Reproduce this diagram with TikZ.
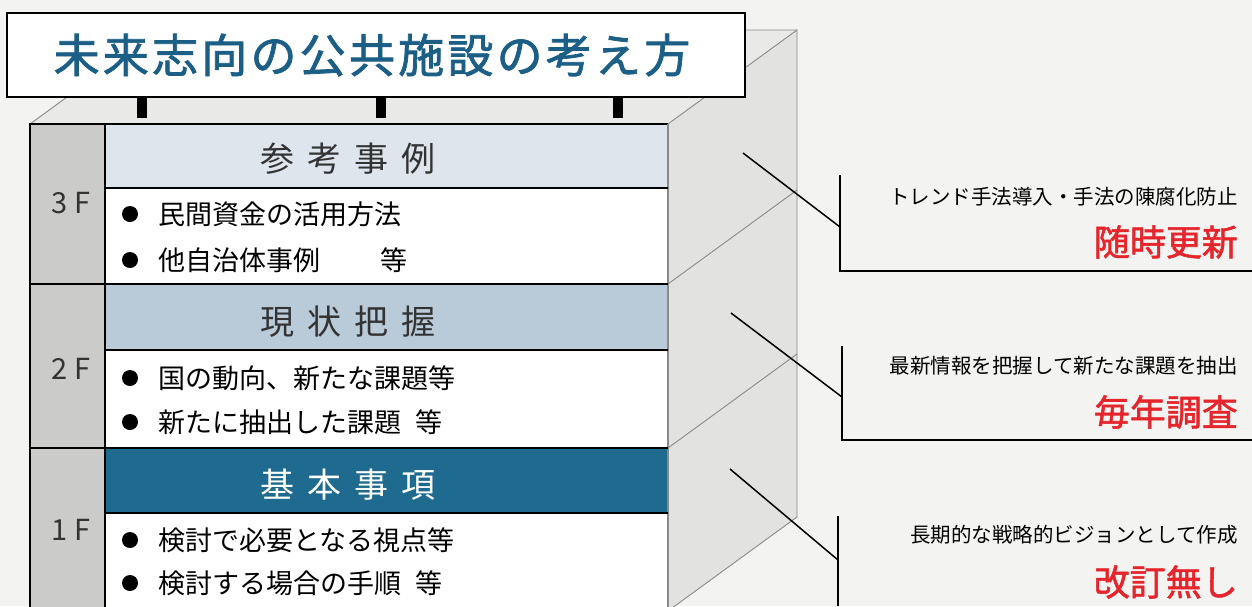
\documentclass[tikz,border=0pt]{standalone}
\usepackage{fontspec}
\setmainfont{Noto Sans CJK JP}
\newfontfamily\titlefont{Noto Sans CJK JP}[LetterSpace=7,FakeBold=1.6]
\newfontfamily\headfont{Noto Sans CJK JP}[LetterSpace=38]
\newfontfamily\redfont{Noto Sans CJK JP}[FakeBold=1.5]
\definecolor{bgc}{HTML}{F3F3F1}
\definecolor{topc}{HTML}{E9E9E8}
\definecolor{sidec}{HTML}{E2E2E1}
\definecolor{sidel}{HTML}{8A8A8A}
\definecolor{colc}{HTML}{CBCBCA}
\definecolor{hthree}{HTML}{DFE5EC}
\definecolor{htwo}{HTML}{B9CAD9}
\definecolor{hone}{HTML}{1F6B8F}
\definecolor{titlec}{HTML}{1C5F86}
\definecolor{redc}{HTML}{E5242B}
\definecolor{txtc}{HTML}{333333}
\begin{document}
\begin{tikzpicture}[x=1pt,y=-1pt,
  frame/.style={draw=black,line width=1.6pt},
  thinside/.style={draw=sidel,line width=0.9pt},
  leader/.style={draw=black,line width=1.5pt},
  floorlbl/.style={font=\fontsize{29}{32}\selectfont,text=txtc},
  headlbl/.style={font=\headfont\fontsize{34}{38}\selectfont,text=txtc},
  item/.style={anchor=west,font=\fontsize{27}{30}\selectfont,text=black,inner sep=0pt},
  bullet/.style={circle,fill=black,minimum size=16pt,inner sep=0pt},
  note/.style={anchor=east,font=\fontsize{20.5}{24}\selectfont,text=black,inner sep=0pt},
  big/.style={anchor=east,font=\redfont\fontsize{36}{40}\selectfont,text=redc,inner sep=0pt},
  post/.style={fill=black}]
\fill[bgc] (0,0) rectangle (1252,606);
\useasboundingbox (0,0) rectangle (1252,606);
% top face
\fill[topc] (30,124) -- (159,30) -- (797,30) -- (668,124) -- cycle;
\draw[thinside] (30,124) -- (159,30) -- (797,30);
% side face
\fill[sidec] (668,124) -- (797,30) -- (797,517) -- (668,611) -- cycle;
\draw[thinside] (668,124) -- (797,30) -- (797,517) -- (668,611);
\draw[thinside] (668,284) -- (797,190);
\draw[thinside] (668,448) -- (797,354);
% front
\fill[colc] (30,124) rectangle (105,620);
\fill[hthree] (105,124) rectangle (668,188);
\fill[white] (105,188) rectangle (668,284);
\fill[htwo] (105,284) rectangle (668,350);
\fill[white] (105,350) rectangle (668,448);
\fill[hone] (105,448) rectangle (668,513);
\fill[white] (105,513) rectangle (668,620);
\draw[frame] (30,620) -- (30,124) -- (668,124);
\draw[frame] (105,124) -- (105,620);
\draw[draw=sidel,line width=1.2pt] (668,124) -- (668,620);
\draw[frame] (30,284) -- (668,284);
\draw[frame] (30,448) -- (668,448);
\draw[frame] (105,188) -- (668,188);
\draw[frame] (105,350) -- (668,350);
\draw[frame] (105,513) -- (668,513);
% posts
\fill[post] (137,96) rectangle (147,118);
\fill[post] (376,96) rectangle (386,118);
\fill[post] (613,96) rectangle (623,118);
% title
\node[draw=black,line width=2pt,fill=white,minimum width=738pt,minimum height=84pt,inner sep=0pt] (title) at (376,55) {};
\node[font=\titlefont\fontsize{46}{50}\selectfont,text=titlec,inner sep=0pt] (titletext) at (372,55) {未来志向の公共施設の考え方};
% floor labels
\node[floorlbl] (f3) at (71,203) {3 F};
\node[floorlbl] (f2) at (71,369) {2 F};
\node[floorlbl] (f1) at (71,530) {1 F};
% headers
\node[headlbl] (h3) at (348,159) {参考事例};
\node[headlbl] (h2) at (348,322) {現状把握};
\node[headlbl,text=white] (h1) at (348,485) {基本事項};
% items
\node[bullet] (b31) at (130,214) {};
\node[item] (t31) at (158,214) {民間資金の活用方法};
\node[bullet] (b32) at (130,260) {};
\node[item] (t32) at (158,260) {他自治体事例\hspace{60pt}等};
\node[bullet] (b21) at (130,378) {};
\node[item] (t21) at (158,378) {国の動向、新たな課題等};
\node[bullet] (b22) at (130,422) {};
\node[item] (t22) at (158,422) {新たに抽出した課題\hspace{14pt}等};
\node[bullet] (b11) at (130,540) {};
\node[item] (t11) at (158,540) {検討で必要となる視点等};
\node[bullet] (b12) at (130,583) {};
\node[item] (t12) at (158,583) {検討する場合の手順\hspace{14pt}等};
% right notes
\node[note] (n3) at (1238,197) {トレンド手法導入・手法の陳腐化防止};
\node[big] (r3) at (1238,242) {随時更新};
\node[note] (n2) at (1238,366) {最新情報を把握して新たな課題を抽出};
\node[big] (r2) at (1238,412) {毎年調査};
\node[note] (n1) at (1238,535) {長期的な戦略的ビジョンとして作成};
\node[big] (r1) at (1238,582) {改訂無し};
% leaders and brackets
\coordinate (l3a) at (743,153); \coordinate (l3b) at (840,227);
\coordinate (k3t) at (840,175); \coordinate (k3c) at (840,271); \coordinate (k3e) at (1252,271);
\coordinate (l2a) at (731,313); \coordinate (l2b) at (842,397);
\coordinate (k2t) at (842,346); \coordinate (k2c) at (842,440); \coordinate (k2e) at (1252,440);
\coordinate (l1a) at (730,469); \coordinate (l1b) at (838,560);
\coordinate (k1t) at (838,516); \coordinate (k1c) at (838,606);
\draw[leader] (l3a) -- (l3b);
\draw[leader] (k3t) -- (k3c) -- (k3e);
\draw[leader] (l2a) -- (l2b);
\draw[leader] (k2t) -- (k2c) -- (k2e);
\draw[leader] (l1a) -- (l1b);
\draw[leader] (k1t) -- (k1c);
\end{tikzpicture}
\end{document}
